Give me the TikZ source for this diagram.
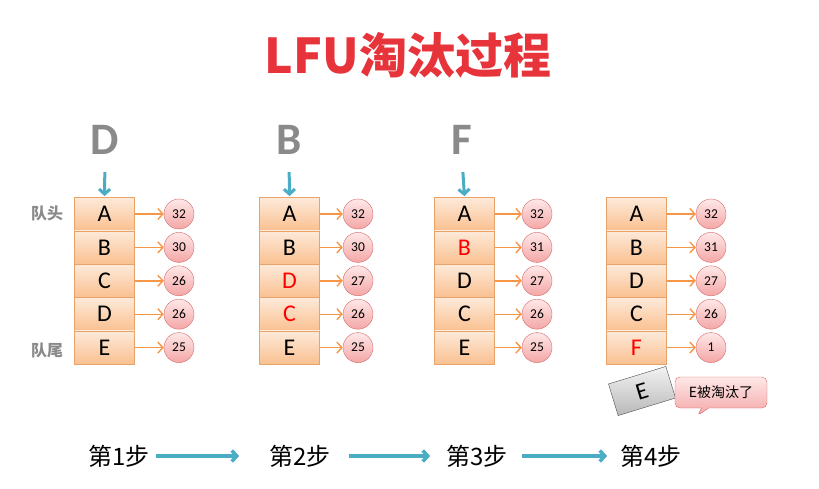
\documentclass[tikz,border=0pt]{standalone}
\usepackage{fontspec}
\setmainfont{Carlito}
\newfontfamily\cjk{Noto Sans CJK SC}
\usetikzlibrary{positioning,arrows.meta,shapes.callouts}
\definecolor{lfured}{HTML}{E6343A}
\definecolor{lfugrey}{HTML}{8A8A8A}
\definecolor{lfuteal}{HTML}{4BACC6}
\definecolor{lfuorange}{HTML}{F79646}
\definecolor{cellhi}{HTML}{FDEADA}
\definecolor{celllo}{HTML}{FAC090}
\definecolor{cellline}{HTML}{E8A36B}
\definecolor{cnthi}{HTML}{FFE8E8}
\definecolor{cntlo}{HTML}{F4A6A6}
\definecolor{cntline}{HTML}{D46A6A}
\definecolor{hotred}{HTML}{FF0000}

\begin{document}
\begin{tikzpicture}[x=1pt,y=-1pt,
  cell/.style={draw=cellline,top color=cellhi,bottom color=celllo,minimum width=60pt,minimum height=33.4pt,inner sep=0pt,font=\fontsize{24}{24}\selectfont},
  cnt/.style={circle,draw=cntline,top color=cnthi,bottom color=cntlo,minimum size=30pt,inner sep=0pt,font=\fontsize{13.5}{13.5}\selectfont},
  link/.style={-{Straight Barb[length=5pt,width=11pt]},lfuorange,line width=1.4pt},
  push/.style={-{Straight Barb[length=5pt,width=11pt]},lfuteal,line width=3pt},
  key/.style={text=lfugrey,font=\fontsize{45}{45}\selectfont\bfseries},
  tag/.style={text=lfugrey,font=\fontsize{16}{16}\selectfont\cjk\bfseries},
  stepl/.style={font=\fontsize{24}{24}\selectfont\cjk,inner sep=3pt}
]
\useasboundingbox (0,0) rectangle (819,489);

\node[text=lfured,font=\fontsize{48}{48}\selectfont\cjk\bfseries] (title) at (408,55) {LFU淘汰过程};

\node[tag] (head) at (47,213) {队头};
\node[tag] (tail) at (47,350) {队尾};

% step 1
\foreach \t/\n/\c [count=\i] in {A/32/black,B/30/black,C/26/black,D/26/black,E/25/black}{
  \node[cell,text=\c] (qa-\i) at (104.5,180.6+33.4*\i) {\t};
  \node[cnt] (na-\i) at (179,180.6+33.4*\i) {\n};
  \draw[link] (qa-\i) -- (na-\i);
}
% step 2
\foreach \t/\n/\c [count=\i] in {A/32/black,B/30/black,D/27/hotred,C/26/hotred,E/25/black}{
  \node[cell,text=\c] (qb-\i) at (289.5,180.6+33.4*\i) {\t};
  \node[cnt] (nb-\i) at (358,180.6+33.4*\i) {\n};
  \draw[link] (qb-\i) -- (nb-\i);
}
% step 3
\foreach \t/\n/\c [count=\i] in {A/32/black,B/31/hotred,D/27/black,C/26/black,E/25/black}{
  \node[cell,text=\c] (qc-\i) at (464.5,180.6+33.4*\i) {\t};
  \node[cnt] (nc-\i) at (537,180.6+33.4*\i) {\n};
  \draw[link] (qc-\i) -- (nc-\i);
}
% step 4
\foreach \t/\n/\c [count=\i] in {A/32/black,B/31/black,D/27/black,C/26/black,F/1/hotred}{
  \node[cell,text=\c] (qd-\i) at (636.5,180.6+33.4*\i) {\t};
  \node[cnt] (nd-\i) at (711,180.6+33.4*\i) {\n};
  \draw[link] (qd-\i) -- (nd-\i);
}

% incoming keys
\node[key] (kd) at (105,140) {D};
\node[key] (kb) at (289,140) {B};
\node[key] (kf) at (462,140) {F};
\draw[push,shorten <=14pt,shorten >=1pt] (kd.south) -- (qa-1.north);
\draw[push,shorten <=14pt,shorten >=1pt] (kb.south) -- (qb-1.north);
\draw[push,shorten <=14pt,shorten >=1pt] (kf.south) -- (qc-1.north);

% evicted key
\node[draw=black!70,top color=gray!10,bottom color=gray!55,rotate=17,minimum width=60pt,minimum height=33pt,inner sep=0pt,font=\fontsize{24}{24}\selectfont] (out) at (642,391) {E};
\node[rectangle callout,callout absolute pointer={(697,416)},draw=cntline,top color=cnthi,bottom color=cntlo,rounded corners=5pt,minimum width=92pt,minimum height=31pt,inner sep=2pt,font=\fontsize{14}{14}\selectfont\cjk] (gone) at (721,392.5) {E被淘汰了};

% steps
\node[stepl] (s1) at (119,456) {第1步};
\node[stepl] (s2) at (300,456) {第2步};
\node[stepl] (s3) at (477,456) {第3步};
\node[stepl] (s4) at (651,456) {第4步};
\draw[push,line width=3.5pt,shorten <=3pt,shorten >=27pt] (s1) -- (s2);
\draw[push,line width=3.5pt,shorten <=15pt,shorten >=13pt] (s2) -- (s3);
\draw[push,line width=3.5pt,shorten <=11pt,shorten >=10pt] (s3) -- (s4);
\end{tikzpicture}
\end{document}
